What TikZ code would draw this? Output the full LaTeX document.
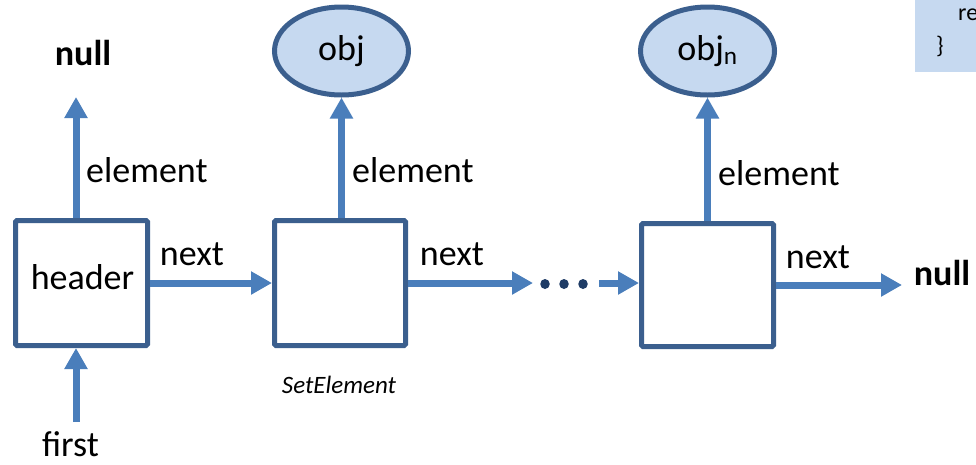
\documentclass[tikz,border=0pt]{standalone}
\usepackage{fontspec}
\setmainfont{Carlito}
\usetikzlibrary{arrows.meta,shapes.geometric}
\definecolor{arrowblue}{HTML}{4A7EBB}
\definecolor{boxblue}{HTML}{3B5F8E}
\definecolor{fillblue}{HTML}{C6D9F0}
\definecolor{dotblue}{HTML}{1F3C66}
\tikzset{
  big/.style={font=\fontsize{36}{43}\selectfont, inner sep=0pt},
  cell/.style={draw=boxblue, line width=5pt, rounded corners=1.5pt, fill=white, inner sep=0pt},
  objell/.style={ellipse, draw=boxblue, line width=5pt, fill=fillblue, inner sep=0pt,
    minimum width=134pt, minimum height=88pt, font=\fontsize{36}{43}\selectfont},
  arr/.style={draw=arrowblue, line width=7pt, -{Triangle[length=21pt,width=22pt]}},
  dotmark/.style={ellipse, fill=dotblue, inner sep=0pt, minimum width=9.5pt, minimum height=10pt},
}
\begin{document}
\begin{tikzpicture}[x=1pt,y=-1pt]
\useasboundingbox (0,0) rectangle (976,464);
% code box (top right)
\fill[fillblue] (915,-5) rectangle (990,72);
\node[anchor=base west, inner sep=0pt, font=\fontsize{24}{29}\selectfont] (coderet) at (958,20) {re};
\node[anchor=base, inner sep=0pt, font=\fontsize{24}{29}\selectfont] (codebrace) at (940,53) {\}};
% boxes
\node[cell, minimum width=132pt, minimum height=125pt] (box1) at (81.5,283) {};
\node[big, anchor=base] (hdr) at (82.5,289) {header};
\node[cell, minimum width=131pt, minimum height=125pt] (box2) at (340,283) {};
\node[cell, minimum width=132pt, minimum height=123pt] (box3) at (707.5,285) {};
% ellipses
\node[objell] (obj) at (341.5,51) {obj};
\node[objell] (objn) at (707.5,51) {obj\textsubscript{n}};
% element arrows
\coordinate (nulltip) at (76,97);
\draw[arr] (box1.north -| nulltip) -- (nulltip);
\node[big, anchor=base, font=\bfseries\fontsize{36}{43}\selectfont] (null1) at (83,65) {null};
\draw[arr] (box2.north -| obj.south) -- (obj.south);
\draw[arr] (box3.north -| objn.south) -- (objn.south);
\node[big, anchor=base west] (el1) at (86,182) {element};
\node[big, anchor=base west] (el2) at (352,182) {element};
\node[big, anchor=base west] (el3) at (718,185) {element};
% next arrows
\draw[arr] (box1.east) -- (box2.west);
\node[big, anchor=base] (nx1) at (192,265) {next};
\coordinate (dotin) at (533,283);
\draw[arr] (box2.east) -- (dotin);
\node[big, anchor=base] (nx2) at (452,265) {next};
\node[dotmark] (d1) at (545,284) {};
\node[dotmark] (d2) at (564,284) {};
\node[dotmark] (d3) at (583,284) {};
\coordinate (dotout) at (599,283);
\draw[arr] (dotout) -- (dotout -| box3.west);
\coordinate (nulltip2) at (902,285);
\draw[arr] (box3.east) -- (nulltip2);
\node[big, anchor=base] (nx3) at (818,268) {next};
\node[big, anchor=base, font=\bfseries\fontsize{36}{43}\selectfont] (null2) at (942,285) {null};
% first
\coordinate (firsttail) at (76,422);
\draw[arr] (firsttail) -- (firsttail |- box1.south);
\node[big, anchor=base] (first) at (70.5,456) {first};
% SetElement label
\node[anchor=base, inner sep=0pt, font=\itshape\fontsize{25}{30}\selectfont] (setel) at (339,393) {SetElement};
\end{tikzpicture}
\end{document}
